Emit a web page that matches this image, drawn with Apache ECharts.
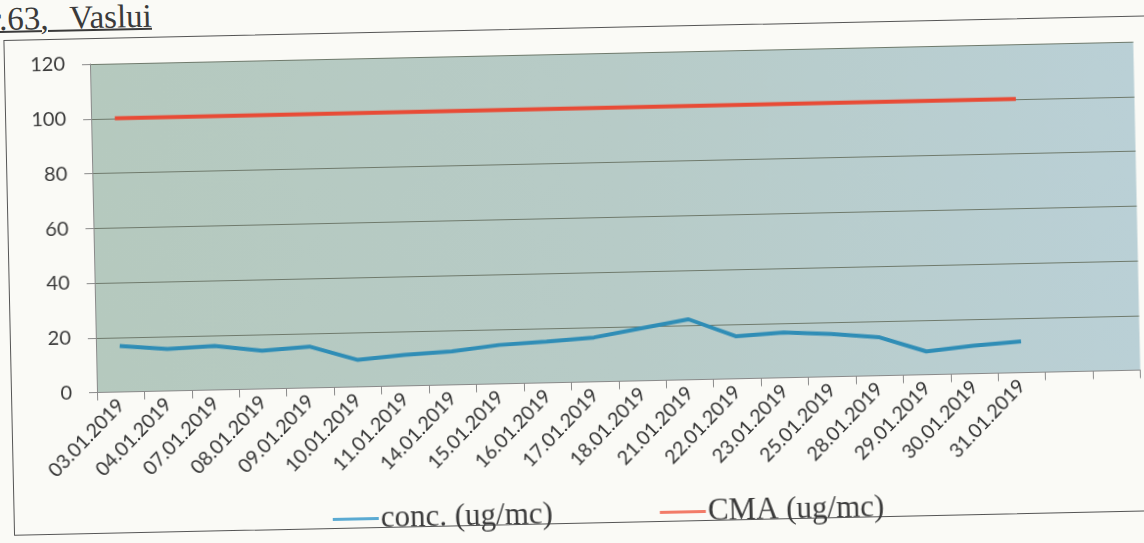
<!DOCTYPE html>
<html>
<head>
<meta charset="utf-8">
<script src="https://cdn.jsdelivr.net/npm/echarts@6/dist/echarts.min.js"></script>
<style>
  html, body { margin: 0; padding: 0; background: #fafaf6; overflow: hidden; }
  #page { position: absolute; left: 0; top: 0; width: 1144px; height: 543px;
          transform: rotate(-1.23deg); transform-origin: 97px 392.5px; }
  #title { position: absolute; left: -2px; top: 1px; font-family: "Liberation Serif", serif;
           font-size: 33px; line-height: 33px; color: #3a3a3a; text-decoration: underline;
           text-decoration-thickness: 1.5px; word-spacing: 13px; white-space: nowrap; }
  #box { position: absolute; left: 11px; top: 37.5px; width: 1200px; height: 496px;
         border: 1.5px solid #555; box-sizing: border-box; }
  #chart { position: absolute; left: 0; top: 0; width: 1144px; height: 543px; }
</style>
</head>
<body>
<div id="page">
  <div id="title">r.63, Vaslui</div>
  <div id="box"></div>
  <div id="chart"></div>
</div>
<script>
// ---- data ----
const dates = ["03.01.2019","04.01.2019","07.01.2019","08.01.2019","09.01.2019","10.01.2019",
  "11.01.2019","14.01.2019","15.01.2019","16.01.2019","17.01.2019","18.01.2019","21.01.2019",
  "22.01.2019","23.01.2019","25.01.2019","28.01.2019","29.01.2019","30.01.2019","31.01.2019"];
const emptySlots = ["", ""];
const conc = [16.8, 15.3, 16.1, 14.0, 15.1, 9.9, 11.3, 12.2, 14.2, 15.1, 16.2, 19.2, 22.1,
  15.5, 16.5, 15.6, 14.1, 8.5, 10.2, 11.4];
const cma = [100, 100, 100, 100, 100, 100, 100, 100, 100, 100, 100, 100, 100,
  100, 100, 100, 100, 100, 100, 100];
const yTicks = [0, 20, 40, 60, 80, 100, 120];
const seriesNames = ["conc. (ug/mc)", "CMA (ug/mc)"];

const categories = dates.concat(emptySlots);

const chart = echarts.init(document.getElementById('chart'), null, { renderer: 'canvas' });
chart.setOption({
  animation: false,
  backgroundColor: 'transparent',
  grid: {
    left: 97, right: 3.5, top: 64, bottom: 150.5, show: true, borderWidth: 0,
    backgroundColor: new echarts.graphic.LinearGradient(0, 0, 1, 0, [
      { offset: 0, color: '#b5c9be' },
      { offset: 0.5, color: '#b7cbc7' },
      { offset: 1, color: '#bad0d6' }
    ])
  },
  legend: {
    data: seriesNames, left: 325, top: 504, itemGap: 107, itemWidth: 46, itemHeight: 3,
    icon: 'rect',
    textStyle: { fontFamily: 'Liberation Serif', fontSize: 31, color: '#3a3a3a', padding: [0, 0, 0, -3] }
  },
  xAxis: {
    type: 'category', data: categories, boundaryGap: true,
    axisLine: { show: true, lineStyle: { color: '#8a8a8a', width: 1 } },
    axisTick: { show: true, length: 8, interval: 0, lineStyle: { color: '#8a8a8a' } },
    axisLabel: { interval: 0, rotate: 45, margin: 10, fontFamily: 'Lato', fontSize: 19.5, color: '#333' },
    splitLine: { show: false }
  },
  yAxis: {
    type: 'value', min: yTicks[0], max: yTicks[yTicks.length - 1], interval: 20,
    axisLine: { show: true, lineStyle: { color: '#8a8a8a', width: 1 } },
    axisTick: { show: true, length: 8, lineStyle: { color: '#8a8a8a' } },
    axisLabel: { margin: 25, fontFamily: 'Lato', fontSize: 20, color: '#3a3a3a' },
    splitLine: { show: true, lineStyle: { color: '#6f7a6c', width: 1.2 } }
  },
  series: [
    {
      name: seriesNames[0], type: 'line', data: conc, symbol: 'none', smooth: false,
      itemStyle: { color: '#5aaad2' },
      lineStyle: { color: '#2f8db6', width: 4 }, z: 3
    },
    {
      name: seriesNames[1], type: 'line', data: cma, symbol: 'none',
      itemStyle: { color: '#f27b68' },
      lineStyle: { color: '#e84b36', width: 4 }, z: 2
    }
  ]
});
</script>
</body>
</html>
